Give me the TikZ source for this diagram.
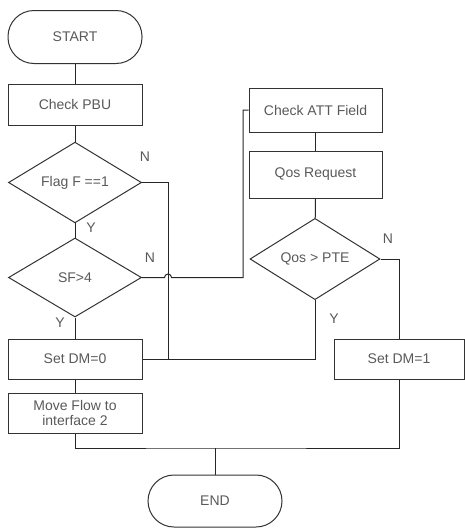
\documentclass[tikz,border=0pt]{standalone}
\usepackage{fontspec}
\setmainfont{Liberation Sans}
\usetikzlibrary{shapes.geometric}
\begin{document}
\begin{tikzpicture}[x=1pt,y=-1pt,
  font=\fontsize{14}{16}\selectfont,
  line width=1pt,
  every node/.style={text=black!65},
  box/.style={draw=black!80,rectangle,inner sep=0pt,minimum width=134pt,minimum height=40pt,align=center},
  term/.style={box,rounded corners=26pt,minimum height=53pt},
  test/.style={draw=black!80,diamond,inner sep=0pt,minimum width=133pt,minimum height=79pt},
  yn/.style={inner sep=0pt},
  link/.style={draw=black!85}]
\useasboundingbox (0,0) rectangle (465,528);
% left column
\node[term] (start) at (75,37) {START};
\node[box,minimum height=41pt] (pbu) at (75,104.5) {Check PBU};
\node[test] (flag) at (75,182.5) {Flag F ==1};
\node[test] (sf) at (75,277.5) {SF>4};
\node[box] (dm0) at (75,359) {Set DM=0};
\node[box,font=\fontsize{14}{15.5}\selectfont] (move) at (75,413) {Move Flow to\\interface 2};
\node[term,minimum height=52pt] (stop) at (215,501) {END};
% right column
\node[box,minimum width=133pt,minimum height=44pt] (att) at (315.5,110) {Check ATT Field};
\node[box,minimum width=133pt,minimum height=47pt] (qos) at (315.5,174.5) {Qos Request};
\node[test,minimum width=130pt,minimum height=78pt] (pte) at (315,259) {Qos > PTE};
\node[box,minimum width=130pt] (dm1) at (399,359) {Set DM=1};
% branch labels
\node[yn] (n1) at (145,157) {N};
\node[yn] (y1) at (91,228) {Y};
\node[yn] (n2) at (150,258) {N};
\node[yn] (y2) at (60,323) {Y};
\node[yn] (n3) at (388,239) {N};
\node[yn] (y3) at (334,319) {Y};
% joints
\coordinate (j1) at (168,359);
\coordinate (hop) at (164.5,277.5);
\coordinate (up) at (243,277.5);
\coordinate (merge) at (215,448);
\draw[link] (start) -- (pbu);
\draw[link] (pbu) -- (flag);
\draw[link] (flag) -- (sf);
\draw[link] (sf) -- (dm0);
\draw[link] (dm0) -- (move);
\draw[link] (att) -- (qos);
\draw[link] (qos) -- (pte);
\draw[link] (flag.east) -| (j1);
\draw[link] (pte.south) |- (dm0.east);
\draw[link] (sf.east) -- (hop) arc[start angle=180,end angle=360,radius=3.5] -- (up) |- (att.west);
\draw[link] (pte.east) -| (dm1.north);
\draw[link] (move.south) |- (merge) -| (dm1.south);
\draw[link] (merge) -- (stop.north);
\end{tikzpicture}
\end{document}
